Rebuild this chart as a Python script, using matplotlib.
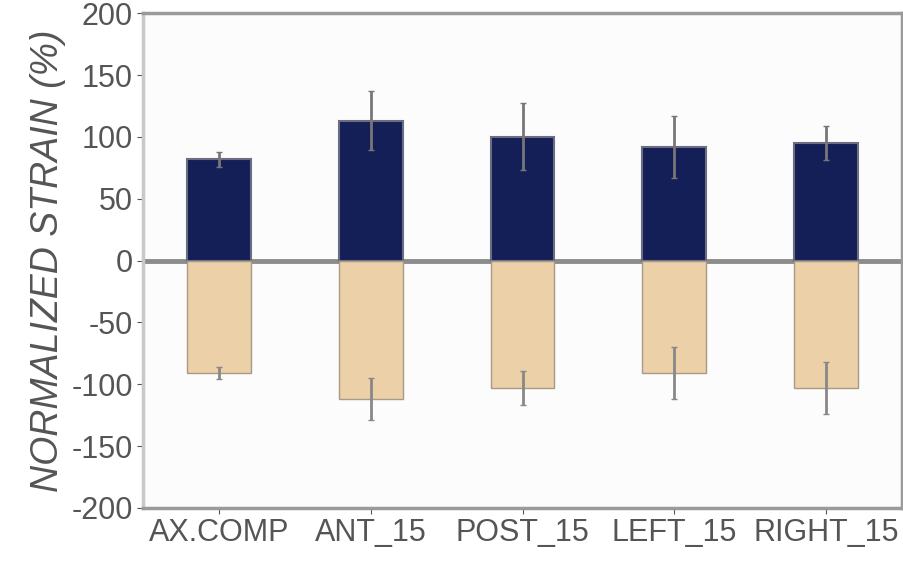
import matplotlib.pyplot as plt
import numpy as np

# values
categories = ['AX.COMP', 'ANT_15', 'POST_15', 'LEFT_15', 'RIGHT_15']
pos_strain = [82, 113, 100, 92, 95]
pos_err = [6, 24, 27, 25, 14]
neg_strain = [-91, -112, -103, -91, -103]
neg_err = [5, 17, 14, 21, 21]

plt.rcParams['font.family'] = ['Liberation Sans', 'DejaVu Sans']
plt.rcParams['axes.unicode_minus'] = False

fig = plt.figure(figsize=(9.04, 5.72), dpi=100)
ax = fig.add_axes([0.158, 0.112, 0.84, 0.865])
ax.set_facecolor('#fcfcfc')

x = np.arange(len(categories))
width = 0.42

ax.bar(x, pos_strain, width, color='#151f57', edgecolor='#6a6e80', linewidth=1.5, zorder=2)
ax.bar(x, neg_strain, width, color='#ebd0a8', edgecolor='#a89a86', linewidth=1.0, zorder=2)

ax.errorbar(x, pos_strain, yerr=pos_err, fmt='none', ecolor='#777777',
            elinewidth=2, capsize=2, zorder=3)
ax.errorbar(x, neg_strain, yerr=neg_err, fmt='none', ecolor='#888888',
            elinewidth=2, capsize=2, zorder=3)

ax.axhline(0, color='#8c8c8c', linewidth=3.5, zorder=1)

ax.set_xlim(-0.5, 4.5)
ax.set_ylim(-200, 200)
ax.set_yticks(np.arange(-200, 201, 50))
ax.set_xticks(x)
ax.set_xticklabels(categories)
ax.tick_params(axis='both', labelsize=22, colors='#555555', length=4, pad=3)
ax.set_ylabel('NORMALIZED STRAIN (%)', fontsize=27, color='#555555',
              style='italic', labelpad=4)

for s in ax.spines.values():
    s.set_color('#9a9a9a')
    s.set_linewidth(2.5)
ax.spines['left'].set_color('#c8c8c8')

plt.savefig('out.png', dpi=100)
